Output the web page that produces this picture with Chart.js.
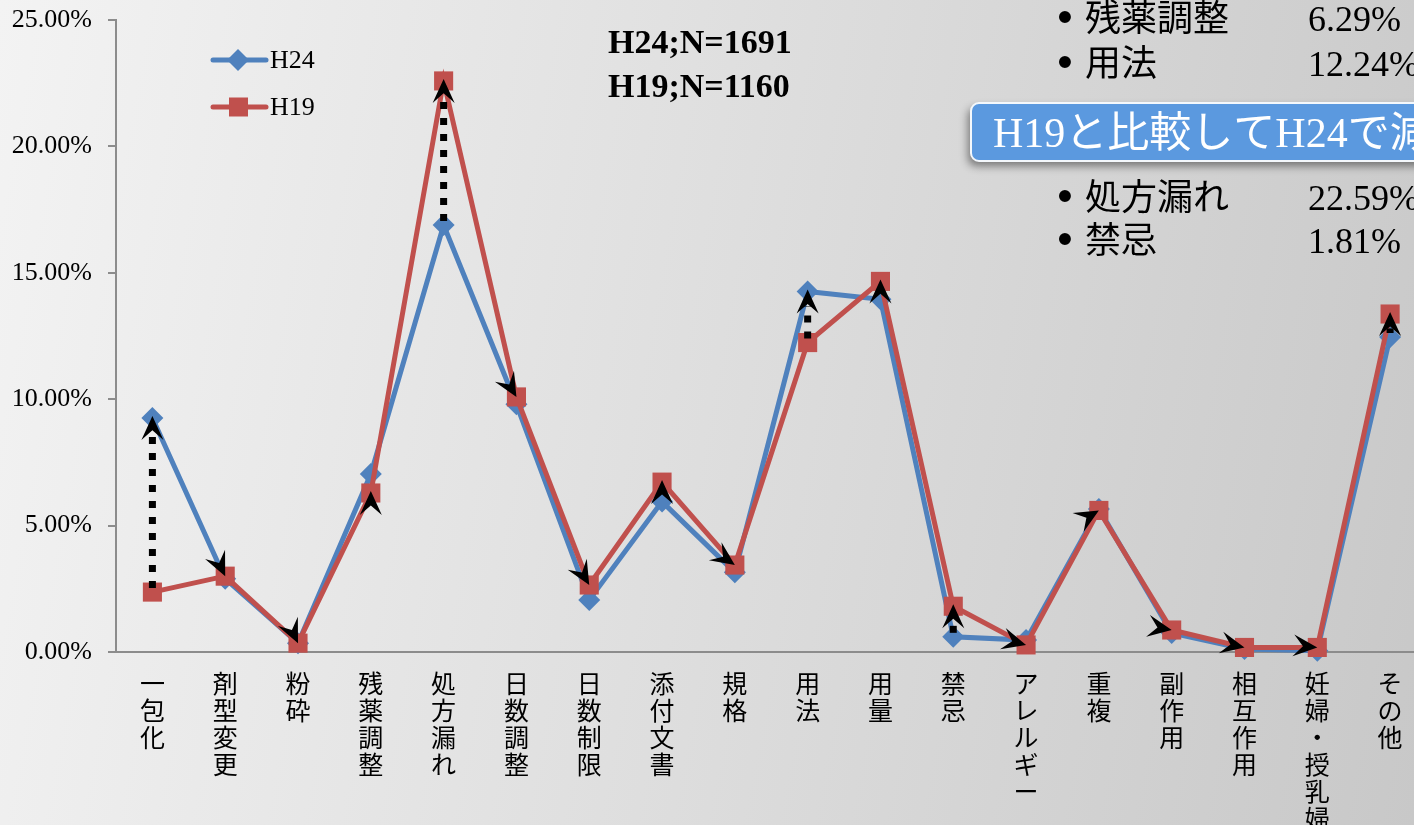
<!DOCTYPE html>
<html>
<head>
<meta charset="utf-8">
<script src="https://cdn.jsdelivr.net/npm/chart.js@4.4.1/dist/chart.umd.min.js"></script>
<style>
html, body { margin: 0; padding: 0; width: 1414px; height: 825px; overflow: hidden; }
body { background: linear-gradient(100deg, #f3f3f3 0%, #dedede 50%, #c8c8c8 100%); }
#wrap { position: absolute; left: 0; top: 0; width: 1440px; height: 825px; }
</style>
</head>
<body>
<div id="wrap"><canvas id="myChart" width="1440" height="825"></canvas></div>
<script>
// categories (x axis, drawn vertically one char per line)
var categories = ['一包化', '剤型変更', '粉砕', '残薬調整', '処方漏れ', '日数調整', '日数制限', '添付文書', '規格',
                  '用法', '用量', '禁忌', 'アレルギー', '重複', '副作用', '相互作用', '妊婦・授乳婦', 'その他'];
// percentages
var h24 = [9.26, 2.9, 0.35, 7.04, 16.89, 9.8, 2.06, 5.95, 3.15, 14.26, 13.95, 0.6, 0.47, 5.66, 0.75, 0.12, 0.05, 12.46];
var h19 = [2.37, 3.0, 0.35, 6.29, 22.59, 10.09, 2.65, 6.72, 3.44, 12.24, 14.66, 1.81, 0.28, 5.6, 0.87, 0.18, 0.18, 13.37];
var yTicks = [0, 5, 10, 15, 20, 25];

// arrow heads drawn on each category (direction in degrees, 0 = right, -90 = up)
var arrowDir = [-90, 65, 65, -90, -90, 60, 60, -90, 35, -90, -90, -90, 15, -30, 10, 12, 5, -90];
var arrowOnH24 = [0, 9]; // these point at the H24 marker, the rest at H19

var blue = '#4f81bd';
var red = '#c0504d';

var arrowPlugin = {
    id: 'arrows',
    afterDatasetsDraw: function (chart) {
        var ctx = chart.ctx;
        var xs = chart.scales.x, ys = chart.scales.y;
        ctx.save();
        for (var i = 0; i < categories.length; i++) {
            var onH24 = arrowOnH24.indexOf(i) >= 0;
            var tipV = onH24 ? h24[i] : h19[i];
            var tailV = onH24 ? h19[i] : h24[i];
            var x = xs.getPixelForValue(i);
            var ty = ys.getPixelForValue(tipV);
            var by = ys.getPixelForValue(tailV);
            var L = 24, W = 11;
            var up = arrowDir[i] === -90;
            if (up && by - ty > 20) {
                // dotted shaft
                ctx.beginPath();
                ctx.setLineDash([7, 9]);
                ctx.lineWidth = 7;
                ctx.lineCap = 'butt';
                ctx.strokeStyle = '#000';
                ctx.moveTo(x, by - 4);
                ctx.lineTo(x, ty + L * 0.6);
                ctx.stroke();
                ctx.setLineDash([]);
            }
            var a = arrowDir[i] * Math.PI / 180;
            ctx.save();
            ctx.translate(x, up ? ty - 2 : ty);
            ctx.rotate(a);
            ctx.beginPath();
            ctx.moveTo(0, 0);
            ctx.lineTo(-L, -W);
            ctx.lineTo(-L * 0.6, 0);
            ctx.lineTo(-L, W);
            ctx.closePath();
            ctx.fillStyle = '#000';
            ctx.fill();
            ctx.restore();
        }
        ctx.restore();
    }
};

var textPlugin = {
    id: 'texts',
    afterDraw: function (chart) {
        var ctx = chart.ctx;
        ctx.save();
        // legend
        var items = [
            { label: 'H24', color: blue, y: 60, style: 'diamond' },
            { label: 'H19', color: red, y: 107, style: 'square' }
        ];
        items.forEach(function (it) {
            ctx.beginPath();
            ctx.strokeStyle = it.color;
            ctx.lineWidth = 5;
            ctx.lineCap = 'round';
            ctx.moveTo(213, it.y);
            ctx.lineTo(266, it.y);
            ctx.stroke();
            ctx.fillStyle = it.color;
            ctx.beginPath();
            if (it.style === 'diamond') {
                ctx.moveTo(238, it.y - 11); ctx.lineTo(249, it.y); ctx.lineTo(238, it.y + 11); ctx.lineTo(227, it.y);
                ctx.closePath();
            } else {
                ctx.rect(229, it.y - 9.5, 19, 19);
            }
            ctx.fill();
            ctx.fillStyle = '#000';
            ctx.font = '26px "Liberation Serif"';
            ctx.textBaseline = 'middle';
            ctx.textAlign = 'left';
            ctx.fillText(it.label, 270, it.y + 1);
        });

        // sample sizes
        ctx.textBaseline = 'alphabetic';
        ctx.font = 'bold 34px "Liberation Serif"';
        ctx.fillText('H24;N=1691', 608, 53);
        ctx.fillText('H19;N=1160', 608, 97);

        // bullet list on the right
        var rows = [
            { name: '残薬調整', val: '6.29%', y: 31 },
            { name: '用法', val: '12.24%', y: 76 },
            { name: '処方漏れ', val: '22.59%', y: 210 },
            { name: '禁忌', val: '1.81%', y: 253 }
        ];
        rows.forEach(function (r) {
            ctx.font = '44px "Liberation Sans"';
            ctx.textAlign = 'center';
            ctx.fillText('•', 1065, r.y + 1);
            ctx.textAlign = 'left';
            ctx.font = '36px "Noto Sans CJK JP"';
            ctx.fillText(r.name, 1085, r.y);
            ctx.font = '36px "Liberation Serif"';
            ctx.fillText(r.val, 1308, r.y);
        });

        // blue banner
        ctx.save();
        ctx.shadowColor = 'rgba(0,0,0,0.45)';
        ctx.shadowBlur = 8;
        ctx.shadowOffsetX = -3;
        ctx.shadowOffsetY = 5;
        ctx.beginPath();
        ctx.roundRect(971, 103, 520, 58, 8);
        ctx.fillStyle = '#5b99df';
        ctx.fill();
        ctx.restore();
        ctx.beginPath();
        ctx.roundRect(971, 103, 520, 58, 8);
        ctx.lineWidth = 2;
        ctx.strokeStyle = '#f4f8fc';
        ctx.stroke();
        ctx.fillStyle = '#fff';
        ctx.font = '42px "Liberation Serif", "Noto Sans CJK JP"';
        ctx.fillText('H19と比較してH24で減少', 993, 147);
        ctx.restore();
    }
};

var ctx = document.getElementById('myChart');
var myChart = new Chart(ctx, {
    type: 'line',
    data: {
        labels: categories.map(function (c) { return c.split(''); }),
        datasets: [
            {
                label: 'H24',
                data: h24,
                borderColor: blue,
                backgroundColor: blue,
                borderWidth: 5,
                pointStyle: 'rectRot',
                pointRadius: 11,
                pointBorderWidth: 0,
                pointHoverRadius: 11,
                tension: 0,
                clip: false,
                order: 1
            },
            {
                label: 'H19',
                data: h19,
                borderColor: red,
                backgroundColor: red,
                borderWidth: 5,
                pointStyle: 'rect',
                pointRadius: 13.5,
                pointBorderWidth: 0,
                pointHoverRadius: 13.5,
                tension: 0,
                clip: false,
                order: 0
            }
        ]
    },
    options: {
        responsive: false,
        animation: false,
        devicePixelRatio: 1,
        layout: { padding: { top: 20, right: 10, left: 0, bottom: 0 } },
        plugins: {
            legend: { display: false },
            tooltip: { enabled: false }
        },
        scales: {
            x: {
                offset: true,
                grid: { display: false },
                border: { color: '#8c8c8c', width: 2 },
                ticks: {
                    color: '#000',
                    font: { family: 'Noto Sans CJK JP', size: 25, lineHeight: 1.08 },
                    padding: 10,
                    maxRotation: 0,
                    autoSkip: false
                },
                afterFit: function (s) { s.height = 173; s.paddingLeft = 0; s.paddingRight = 0; }
            },
            y: {
                min: 0,
                max: 25,
                afterBuildTicks: function (s) { s.ticks = yTicks.map(function (v) { return { value: v }; }); },
                ticks: {
                    color: '#000',
                    font: { family: 'Liberation Serif', size: 26 },
                    padding: 16,
                    callback: function (v) { return v.toFixed(2) + '%'; }
                },
                grid: { drawOnChartArea: false, tickLength: 8, color: '#8c8c8c', lineWidth: 2 },
                border: { color: '#8c8c8c', width: 2 },
                afterFit: function (s) { s.width = 116; s.paddingTop = 0; s.paddingBottom = 0; }
            }
        }
    },
    plugins: [arrowPlugin, textPlugin]
});
</script>
</body>
</html>
